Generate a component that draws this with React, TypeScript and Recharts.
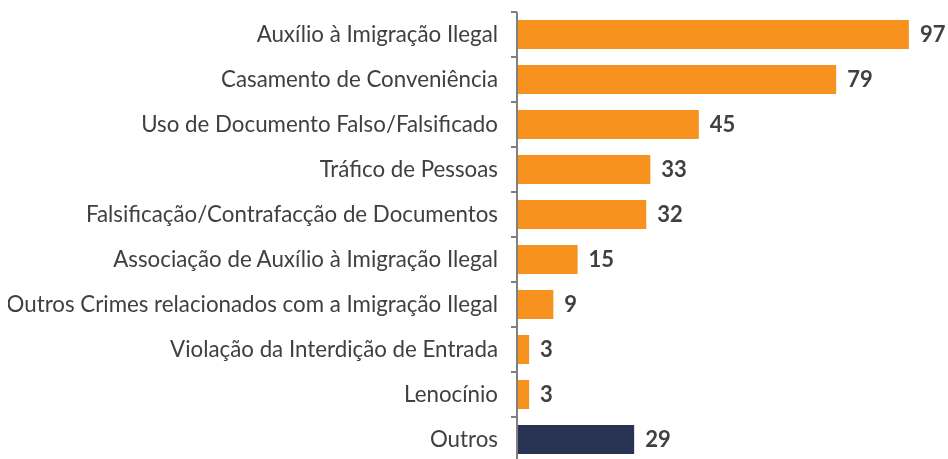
import React from "react";
import { BarChart, Bar, XAxis, YAxis, Cell, LabelList } from "recharts";

const categories = [
  "Auxílio à Imigração Ilegal",
  "Casamento de Conveniência",
  "Uso de Documento Falso/Falsificado",
  "Tráfico de Pessoas",
  "Falsificação/Contrafacção de Documentos",
  "Associação de Auxílio à Imigração Ilegal",
  "Outros Crimes relacionados com a Imigração Ilegal",
  "Violação da Interdição de Entrada",
  "Lenocínio",
  "Outros",
];
const values = [97, 79, 45, 33, 32, 15, 9, 3, 3, 29];
const colors = ["#F7921E", "#F7921E", "#F7921E", "#F7921E", "#F7921E", "#F7921E", "#F7921E", "#F7921E", "#F7921E", "#293454"];

const data = categories.map((name, i) => ({ name, value: values[i], color: colors[i] }));

const FONT = "Lato, 'Open Sans', sans-serif";

const Tick = (props: any) => {
  const { x, y, payload } = props;
  const half = payload && typeof payload.offset === "number" && payload.offset > 0 ? payload.offset : 22.5;
  const ax = x + 19;
  return (
    <g>
      <line x1={ax - 6} x2={ax} y1={y - half} y2={y - half} stroke="#808080" strokeWidth={2} />
      <text x={x} y={y} dy={7} textAnchor="end" fill="#404040" fontSize={22.3} fontFamily={FONT}>
        {payload.value}
      </text>
    </g>
  );
};

export default function App() {
  return (
    <div style={{ position: "fixed", left: 8, top: 8, width: 940, height: 451, overflow: "hidden" }}>
      <BarChart
        width={940}
        height={460}
        data={data}
        layout="vertical"
        margin={{ top: 4, right: 27, bottom: 6, left: 0 }}
        barSize={29}
      >
        <XAxis type="number" domain={[0, 100]} hide />
        <YAxis
          type="category"
          dataKey="name"
          width={509}
          tickLine={false}
          axisLine={{ stroke: "#808080", strokeWidth: 2 }}
          tickMargin={13}
          tick={<Tick />}
          interval={0}
        />
        <Bar dataKey="value" isAnimationActive={false}>
          {data.map((d, i) => (
            <Cell key={i} fill={d.color} />
          ))}
          <LabelList
            dataKey="value"
            position="right"
            offset={11}
            fill="#404040"
            fontSize={22}
            fontWeight="bold"
            fontFamily={FONT}
          />
        </Bar>
      </BarChart>
    </div>
  );
}
